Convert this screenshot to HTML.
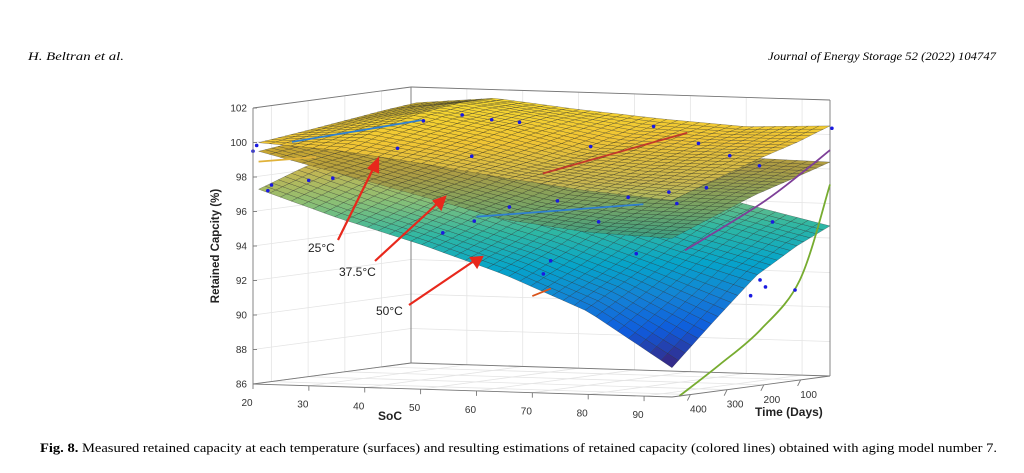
<!DOCTYPE html>
<html><head><meta charset="utf-8">
<style>
html,body{margin:0;padding:0;background:#fff;}
svg{display:block;}
</style></head>
<body>
<svg id="chart" width="1024" height="473" viewBox="0 0 1024 473" xmlns="http://www.w3.org/2000/svg">
<rect width="1024" height="473" fill="#fff"/>
<text x="28" y="60" font-family="Liberation Serif, serif" font-style="italic" font-size="11.5" textLength="96" lengthAdjust="spacingAndGlyphs">H. Beltran et al.</text>
<text x="996" y="60" text-anchor="end" font-family="Liberation Serif, serif" font-style="italic" font-size="11.5" textLength="228" lengthAdjust="spacingAndGlyphs">Journal of Energy Storage 52 (2022) 104747</text>
<g id="grid"></g>
<g id="surf"></g>
<g id="lines"></g>
<g id="pts"></g>
<g id="axes"></g>
<g font-family="Liberation Sans, sans-serif" font-size="12" fill="#222">
<text x="308" y="252">25°C</text>
<text x="339" y="276">37.5°C</text>
<text x="376" y="315">50°C</text>
<g stroke="#e8281c" stroke-width="2.2" fill="#e8281c">
<line x1="338" y1="240" x2="374" y2="167"/>
<polygon points="378,159 378,172 369,168"/>
<line x1="375" y1="261" x2="438" y2="203"/>
<polygon points="445,197 441,209 434,201"/>
<line x1="409" y1="305" x2="474" y2="261"/>
<polygon points="482,257 477,267 471,258"/>
</g>
</g>
<text x="40" y="452" font-family="Liberation Serif, serif" font-size="12.5" textLength="957" lengthAdjust="spacingAndGlyphs"><tspan font-weight="bold">Fig. 8.</tspan>  Measured retained capacity at each temperature (surfaces) and resulting estimations of retained capacity (colored lines) obtained with aging model number 7.</text>
</svg>
<script>
const socTicks=[20,30,40,50,60,70,80,90];
const timeTicks=[100,200,300,400];
const capTicks=[86,88,90,92,94,96,98,100,102];
const gridSoc=[21,35,50,65,80,95];
const gridTime=[450,330,220,110,20];
const cap50=[[97.3,95.8,94.4,92.8,90.8,87.7],[98.2,96.8,95.4,94.0,92.3,90.2],[98.9,97.6,96.4,95.2,93.7,92.4],[99.4,98.3,97.2,96.2,95.0,93.8],[99.8,99.0,98.0,97.0,95.8,94.7]];
const cap375=[[99.5,98.4,97.2,96.0,95.4,95.2],[99.8,98.9,97.8,96.7,96.3,96.2],[100.1,99.4,98.5,97.5,97.2,97.1],[100.3,99.8,99.1,98.3,97.9,97.8],[100.5,100.1,99.5,98.9,98.5,98.4]];
const cap25=[[100.0,99.7,99.1,98.4,97.8,97.4],[100.3,100.6,99.8,98.8,98.4,98.3],[100.6,101.2,100.4,99.3,99.1,99.1],[100.9,101.5,100.8,100.0,99.8,99.8],[101.1,101.5,101.0,100.6,100.3,100.5]];
const ptSoc=[20,20,22,22,28,31,36,38,41,43,46,46,52,55,58,62,64,70,70,72,74,78,80,84,86,88,92,94,96,70,81,85,88,90,93];
const ptTime=[440,450,430,440,420,400,300,260,200,150,120,250,420,380,330,260,200,400,420,300,250,200,150,380,300,250,150,100,30,120,80,60,70,160,180];
const ptCap=[99.8,99.5,97.5,97.2,97.8,97.9,99.4,100.9,101.1,100.7,100.5,98.9,95.0,95.6,96.3,96.5,99.5,93.5,92.8,95.5,96.8,97.0,99.7,94.0,96.7,97.5,91.5,91.2,100.4,100.5,98.8,98.2,95.0,91.0,92.0];
const modelLines=[
 {name:'red-line',color:'#c0392b',soc:[62,78],time:[300,150],cap:[98.2,100.3]},
 {name:'purple-line',color:'#7e3f98',soc:[95,95,95,95],time:[415,210,89,20],cap:[94.4,96.5,98.1,99.1]},
 {name:'green-line',color:'#77ac30',soc:[95,95,95,95,95],time:[430,321,210,102,20],cap:[86.0,87.5,89.2,91.8,97.1]},
 {name:'blue-line',color:'#2f7fd0',soc:[25,37],time:[420,250],cap:[100.0,100.9]},
 {name:'yellow-line',color:'#e0b23a',soc:[21,30],time:[450,430],cap:[98.9,99.2]},
 {name:'orange-line',color:'#d95319',soc:[70,72],time:[450,430],cap:[91.6,92.0]},
 {name:'blue-line-2',color:'#2f7fd0',soc:[60,80],time:[450,300],cap:[96.1,96.6]}
];
function P(soc,t,cap){const s=(soc-20)/75,u=(450-t)/430;return [253+s*419+u*158,384+s*13-u*21-(cap-86)*17.25];}
const NS='http://www.w3.org/2000/svg';
function mk(tag,attrs,parent){const e=document.createElementNS(NS,tag);for(const k in attrs)e.setAttribute(k,attrs[k]);parent.appendChild(e);return e;}
const parula=[[53,42,135],[15,92,221],[20,129,214],[6,164,202],[46,183,164],[135,191,119],[200,182,80],[240,196,52],[246,216,48]];
function col(c,sh){let f=(c-88)/(101.5-88);f=Math.max(0,Math.min(1,f))*(parula.length-1);const i=Math.min(parula.length-2,Math.floor(f)),r=f-i;const a=parula[i],b=parula[i+1];return 'rgb('+a.map((v,k)=>Math.round((v+(b[k]-v)*r)*sh)).join(',')+')';}
function interp(M,soc,t){
 let i=0;while(i<gridSoc.length-2&&soc>gridSoc[i+1])i++;
 let j=0;while(j<gridTime.length-2&&t<gridTime[j+1])j++;
 const fs=(soc-gridSoc[i])/(gridSoc[i+1]-gridSoc[i]),ft=(t-gridTime[j])/(gridTime[j+1]-gridTime[j]);
 const a=M[j][i]+(M[j][i+1]-M[j][i])*fs,b=M[j+1][i]+(M[j+1][i+1]-M[j+1][i])*fs;return a+(b-a)*ft;}
const g=document.getElementById('grid');
const gs={stroke:'#e4e4e4','stroke-width':0.8,fill:'none'};
capTicks.forEach(c=>{const a=P(20,20,c),b=P(95,20,c),d=P(20,450,c);mk('line',{x1:a[0],y1:a[1],x2:b[0],y2:b[1],...gs},g);mk('line',{x1:a[0],y1:a[1],x2:d[0],y2:d[1],...gs},g);});
socTicks.forEach(v=>{const a=P(v,20,86),b=P(v,20,102),d=P(v,450,86);mk('line',{x1:a[0],y1:a[1],x2:b[0],y2:b[1],...gs},g);mk('line',{x1:a[0],y1:a[1],x2:d[0],y2:d[1],...gs},g);});
timeTicks.forEach(v=>{const a=P(20,v,86),b=P(20,v,102),d=P(95,v,86);mk('line',{x1:a[0],y1:a[1],x2:b[0],y2:b[1],...gs},g);mk('line',{x1:a[0],y1:a[1],x2:d[0],y2:d[1],...gs},g);});
const ax=document.getElementById('axes');const es={stroke:'#777','stroke-width':0.9};
[[P(20,20,86),P(20,20,102)],[P(20,20,102),P(95,20,102)],[P(95,20,86),P(95,20,102)],[P(20,20,86),P(95,20,86)],[P(20,450,102),P(20,20,102)],[P(20,450,86),P(20,20,86)]].forEach(([a,b])=>mk('line',{x1:a[0],y1:a[1],x2:b[0],y2:b[1],...es},g));
const sf=document.getElementById('surf');
const NI=38,NJ=24;
[['surface-50c',cap50,1],['surface-37-5c',cap375,0.86],['surface-25c',cap25,1]].forEach(([nm,M,sh])=>{
 const grp=mk('g',{},sf);
 
 
 for(let j=NJ-1;j>=0;j--){const t0=20+(430*(j+1))/NJ,t1=20+430*j/NJ;
  for(let i=0;i<NI;i++){const s0=21+74*i/NI,s1=21+74*(i+1)/NI;
   const c00=interp(M,s0,t0),c10=interp(M,s1,t0),c11=interp(M,s1,t1),c01=interp(M,s0,t1);
   const pts=[P(s0,t0,c00),P(s1,t0,c10),P(s1,t1,c11),P(s0,t1,c01)];
   mk('polygon',{points:pts.map(p=>p[0].toFixed(1)+','+p[1].toFixed(1)).join(' '),fill:col((c00+c10+c11+c01)/4,sh),stroke:'#222','stroke-width':0.35,'stroke-opacity':0.7},grp);
  }}
});
const ln=document.getElementById('lines');
modelLines.forEach(L=>{const p=L.soc.map((s,k)=>P(s,L.time[k],L.cap[k]));let d='M'+p[0].join(',');
 if(p.length>2){for(let k=1;k<p.length;k++){const p0=p[Math.max(0,k-2)],p1=p[k-1],p2=p[k],p3=p[Math.min(p.length-1,k+1)];
  d+=' C'+(p1[0]+(p2[0]-p0[0])/6)+','+(p1[1]+(p2[1]-p0[1])/6)+' '+(p2[0]-(p3[0]-p1[0])/6)+','+(p2[1]-(p3[1]-p1[1])/6)+' '+p2[0]+','+p2[1];}}
 else d+=' L'+p[1].join(',');
 const el=mk('path',{d:d,fill:'none',stroke:L.color,'stroke-width':1.8},ln);
 
 });
const pg=document.getElementById('pts');
ptSoc.forEach((s,k)=>{const p=P(s,ptTime[k],ptCap[k]);const el=mk('circle',{cx:p[0],cy:p[1],r:1.8,fill:'#1a1ae0'},pg);
 
 });
const fs={'font-family':'Liberation Sans, sans-serif','font-size':10,fill:'#333'};
mk('line',{x1:253,y1:384,x2:253,y2:108,...es},ax);
{const a=P(20,450,86),b=P(95,450,86);mk('line',{x1:a[0],y1:a[1],x2:b[0],y2:b[1],...es},ax);const c=P(95,20,86);mk('line',{x1:b[0],y1:b[1],x2:c[0],y2:c[1],...es},ax);}
capTicks.forEach(c=>{const p=P(20,450,c);mk('line',{x1:p[0],y1:p[1],x2:p[0]+4,y2:p[1],...es},ax);const t=mk('text',{x:p[0]-6,y:p[1]+3.5,'text-anchor':'end',...fs},ax);t.textContent=c;
 
 });
socTicks.forEach(v=>{const p=P(v,450,86);mk('line',{x1:p[0],y1:p[1],x2:p[0],y2:p[1]+5,...es},ax);const t=mk('text',{x:p[0]-6,y:p[1]+22,'text-anchor':'middle',...fs},ax);t.textContent=v;
 
 });
timeTicks.forEach(v=>{const p=P(95,v,86);mk('line',{x1:p[0],y1:p[1],x2:p[0]-3,y2:p[1]+6,...es},ax);const t=mk('text',{x:p[0]+8,y:p[1]+18,'text-anchor':'middle',...fs},ax);t.textContent=v;
 
 });
const yt=mk('text',{x:0,y:0,transform:'translate(219,246) rotate(-90)','text-anchor':'middle','font-family':'Liberation Sans, sans-serif','font-size':11.5,'font-weight':'bold',fill:'#222'},ax);yt.textContent='Retained Capcity (%)';


const xt=mk('text',{x:390,y:420,'text-anchor':'middle','font-family':'Liberation Sans, sans-serif','font-size':12,'font-weight':'bold',fill:'#222'},ax);xt.textContent='SoC';


const tt=mk('text',{x:755,y:416,'text-anchor':'start','font-family':'Liberation Sans, sans-serif','font-size':12,'font-weight':'bold',fill:'#222'},ax);tt.textContent='Time (Days)';


</script>
</body></html>
